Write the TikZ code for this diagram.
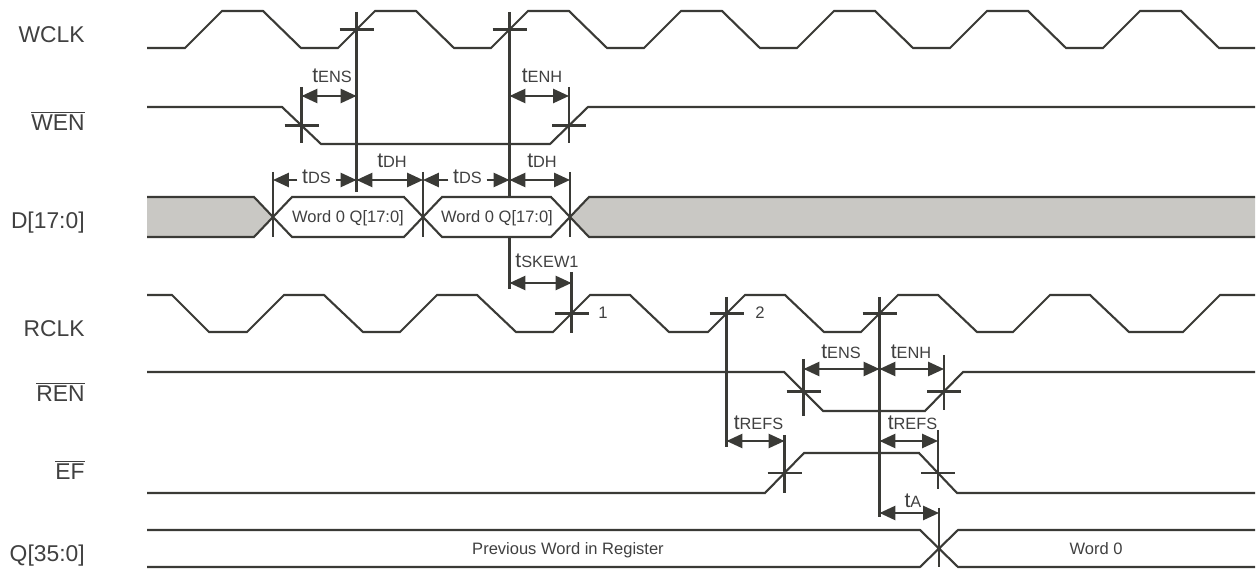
\documentclass[tikz,border=0pt]{standalone}
\usepackage{fontspec}
\setmainfont{Liberation Sans}
\usepackage{tikz}
\usetikzlibrary{arrows.meta}
\definecolor{ink}    {HTML}{3A3A36}
\definecolor{txt}    {HTML}{404040}
\definecolor{busfill}{HTML}{C9C8C4}
\newcommand\tsub[1]{{\fontsize{12}{13}\selectfont t}{\fontsize{9.3}{10}\selectfont #1}}
\newcommand\ovl[1]{$\overline{\mbox{#1}}$}
\tikzset{
  >={Triangle[length=9pt,width=8pt]},
  % --- lines
  sig/.style    = {line width=1.2pt, draw=ink, line join=miter},
  bus/.style    = {sig, fill=busfill},
  word/.style   = {sig, fill=white},
  dimarr/.style = {sig, <->},
  onearr/.style = {sig, ->},
  % --- text
  lbl/.style    = {font=\fontsize{13}{14}\selectfont, text=txt, anchor=base east, inner sep=0pt},
  tl/.style     = {font=\fontsize{12}{13}\selectfont, text=txt, anchor=base, inner sep=0pt},
  tlg/.style    = {tl, inner xsep=2.5pt},
  wtxt/.style   = {font=\fontsize{9.4}{11}\selectfont, text=txt, anchor=base, inner sep=0pt},
  num/.style    = {font=\fontsize{9.5}{10}\selectfont, text=txt, inner sep=0pt},
}
\begin{document}
\begin{tikzpicture}[x=0.02cm,y=-0.02cm]
  \useasboundingbox (0,0) rectangle (1258,570);
  % --- signal names
  \node[lbl] (lwclk) at (85,43)  {WCLK};
  \node[lbl] (lwen)  at (85,131) {\ovl{WEN}};
  \node[lbl] (ld)    at (85,229) {D[17:0]};
  \node[lbl] (lrclk) at (85,337) {RCLK};
  \node[lbl] (lren)  at (85,402) {\ovl{REN}};
  \node[lbl] (lef)   at (85,480) {\ovl{EF}};
  \node[lbl] (lq)    at (85,562) {Q[35:0]};

  % --- waveforms
  \draw[sig] (147,48) \foreach \r in {185,338,491,644,797,950,1103}
    {-- (\r,48) -- (\r+37,11) -- (\r+78,11) -- (\r+116,48)} -- (1255,48);
  \draw[sig] (147,107) -- (282,107) -- (321,144) -- (550,144) -- (588,107) -- (1255,107);
  \draw[sig] (147,295) -- (172,295) -- (209,332) \foreach \r in {247,400,553,708,861,1013}
    {-- (\r,332) -- (\r+37,295) -- (\r+77,295) -- (\r+116,332)} -- (1183,332) -- (1220,295) -- (1255,295);
  \draw[sig] (147,372) -- (784,372) -- (823,411) -- (925,411) -- (963,372) -- (1255,372);
  \draw[sig] (147,493) -- (765,493) -- (804,453) -- (919,453) -- (957,493) -- (1255,493);

  % --- crosshairs on the edges
  \foreach \n/\x/\y/\ytop/\ybot in {wa/356.5/29.5/12/192, wb/509.5/29.5/12/289,
      wf/301.5/125.5/87/143, wr/569/125.5/87/143, ra/571.5/313.5/272/333,
      rb/726.5/313.5/297/447, rc/879.5/313.5/297/517, nf/803.5/391.5/359/416,
      nr/944/391.5/355/410, ef/784.5/473/435/493, eg/938/473/430/489}
  { \coordinate (\n) at (\x,\y);
    \draw[sig] (\x-17,\y) -- (\x+17,\y) (\x,\ytop) -- (\x,\ybot); }

  % --- buses
  \draw[bus] (147,197) -- (254,197) -- (273,217) -- (254,237) -- (147,237);
  \draw[word] (273,217) -- (292,197) -- (404,197) -- (423,217) -- (404,237) -- (292,237) -- cycle;
  \draw[word] (423,217) -- (442,197) -- (551,197) -- (570,217) -- (551,237) -- (442,237) -- cycle;
  \draw[bus] (1255,197) -- (589,197) -- (570,217) -- (589,237) -- (1255,237);
  \node[wtxt] (w1) at (348,223) {Word 0 Q[17:0]};
  \node[wtxt] (w2) at (497,223) {Word 0 Q[17:0]};
  \draw[sig] (147,530) -- (920,530) -- (958,567) -- (1255,567)
             (147,567) -- (920,567) -- (958,530) -- (1255,530);
  \node[wtxt] (qprev) at (568,555)  {Previous Word in Register};
  \node[wtxt] (qw0)   at (1096,555) {Word 0};
  \foreach \n/\x/\ytop/\ybot in {d0/273/172/237, d1/423/172/237, d2/570/172/237, q0/939/508/567}
  { \coordinate (\n) at (\x,\ytop);
    \draw[sig] (\x,\ytop) -- (\x,\ybot); }

  % --- timing parameters
  \draw[dimarr] (wf |- 0,96) -- (wa |- 0,96);
  \node[tl] (tens1) at (332,83) {\tsub{ENS}};
  \draw[dimarr] (wb |- 0,96) -- (wr |- 0,96);
  \node[tl] (tenh1) at (542,83) {\tsub{ENH}};
  \node[tlg] (tds1) at (316.5,184) {\tsub{DS}};
  \draw[onearr] (tds1.west |- 0,180) -- (d0 |- 0,180);
  \draw[onearr] (tds1.east |- 0,180) -- (wa |- 0,180);
  \draw[dimarr] (wa |- 0,180) -- (d1 |- 0,180);
  \node[tl] (tdh1) at (392,168) {\tsub{DH}};
  \node[tlg] (tds2) at (467.5,184) {\tsub{DS}};
  \draw[onearr] (tds2.west |- 0,180) -- (d1 |- 0,180);
  \draw[onearr] (tds2.east |- 0,180) -- (wb |- 0,180);
  \draw[dimarr] (wb |- 0,180) -- (d2 |- 0,180);
  \node[tl] (tdh2) at (542,168) {\tsub{DH}};
  \draw[dimarr] (wb |- 0,283) -- (ra |- 0,283);
  \node[tl] (tskew) at (547,268) {\tsub{SKEW1}};
  \draw[dimarr] (nf |- 0,369) -- (rc |- 0,369);
  \node[tl] (tens2) at (841,359) {\tsub{ENS}};
  \draw[dimarr] (rc |- 0,369) -- (nr |- 0,369);
  \node[tl] (tenh2) at (911,359) {\tsub{ENH}};
  \draw[dimarr] (rb |- 0,441) -- (ef |- 0,441);
  \node[tl] (trefs1) at (758.5,430) {\tsub{REFS}};
  \draw[dimarr] (rc |- 0,441) -- (eg |- 0,441);
  \node[tl] (trefs2) at (912.5,430) {\tsub{REFS}};
  \draw[dimarr] (rc |- 0,513) -- (q0 |- 0,513);
  \node[tl] (ta) at (913,508) {\tsub{A}};
  \node[num] (n1) at (603,313) {1};
  \node[num] (n2) at (760,313) {2};
\end{tikzpicture}
\end{document}
